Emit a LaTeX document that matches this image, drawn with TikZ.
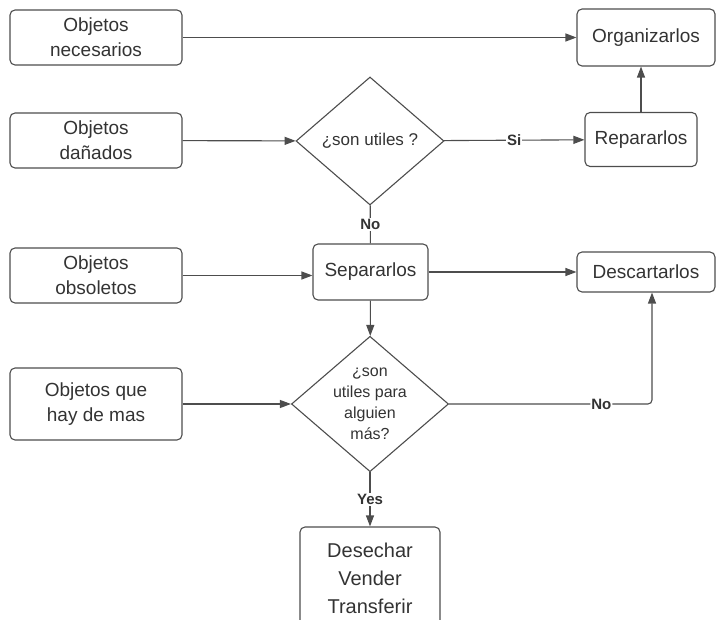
\documentclass[tikz,border=0pt]{standalone}
\usepackage{fontspec}
\setmainfont{Liberation Sans}
\usetikzlibrary{arrows.meta,shapes.geometric}
\definecolor{linegray}{HTML}{4D4D4D}
\definecolor{textgray}{HTML}{333333}
\tikzset{
  stepbox/.style={draw=linegray, line width=1.1pt, rounded corners=5pt, align=center,
    text=textgray, font=\fontsize{19}{25}\selectfont, inner sep=2pt},
  question/.style={draw=linegray, line width=1.1pt, diamond, aspect=1.16, inner sep=0pt,
    minimum width=148pt, minimum height=128pt, align=center, text=textgray,
    font=\fontsize{17}{22}\selectfont},
  answer/.style={fill=white, inner sep=1pt, text=textgray, font=\bfseries\fontsize{15}{18}\selectfont},
  link/.style={draw=linegray, line width=1.1pt}
}
\begin{document}
\begin{tikzpicture}[x=1pt,y=-1pt,>={Triangle[length=11pt,width=8pt]}]
\useasboundingbox (0,0) rectangle (718,620);
% columna izquierda
\node[stepbox, minimum width=172pt, minimum height=55pt] (nec) at (96,37.5) {Objetos\\necesarios};
\node[stepbox, minimum width=172pt, minimum height=55pt] (dan) at (96,140.5) {Objetos\\dañados};
\node[stepbox, minimum width=172pt, minimum height=55pt] (obs) at (96,275.5) {Objetos\\obsoletos};
\node[stepbox, minimum width=172pt, minimum height=72pt] (mas) at (96,404) {Objetos que\\hay de mas};
% centro
\node[question] (util) at (370,141) {¿son utiles ?};
\node[stepbox, minimum width=115pt, minimum height=56pt] (sep) at (370.5,272) {Separarlos};
\node[question, font=\fontsize{16}{21}\selectfont] (otro) at (370,404) {¿son\\utiles para\\alguien\\más?};
\node[stepbox, minimum width=140pt, minimum height=102pt, font=\fontsize{20}{28}\selectfont] (des) at (370,578) {Desechar\\Vender\\Transferir};
% derecha
\node[stepbox, minimum width=138pt, minimum height=57pt] (org) at (646,37.5) {Organizarlos};
\node[stepbox, minimum width=112pt, minimum height=54pt] (rep) at (641,139.5) {Repararlos};
\node[stepbox, minimum width=138pt, minimum height=40pt] (desc) at (646,272) {Descartarlos};
\coordinate (giro) at (652,404);
% conexiones
\path (nec) edge[link,->] (org);
\path (dan) edge[link,->] (util);
\path (util) edge[link,->] node[answer]{Si} (rep);
\path (rep) edge[link,->] (rep |- org.south);
\path (util) edge[link] node[answer]{No} (sep);
\path (obs.east) edge[link,->] (obs.east -| sep.west);
\path (sep.east |- desc) edge[link,->] (desc);
\path (sep) edge[link,->] (otro);
\path (mas) edge[link,->] (otro);
\draw[link,->,rounded corners=4pt] (otro.east) -- node[answer,pos=0.75]{No} (giro) -- (giro |- desc.south);
\path (otro) edge[link,->] node[answer]{Yes} (des);
\end{tikzpicture}
\end{document}
